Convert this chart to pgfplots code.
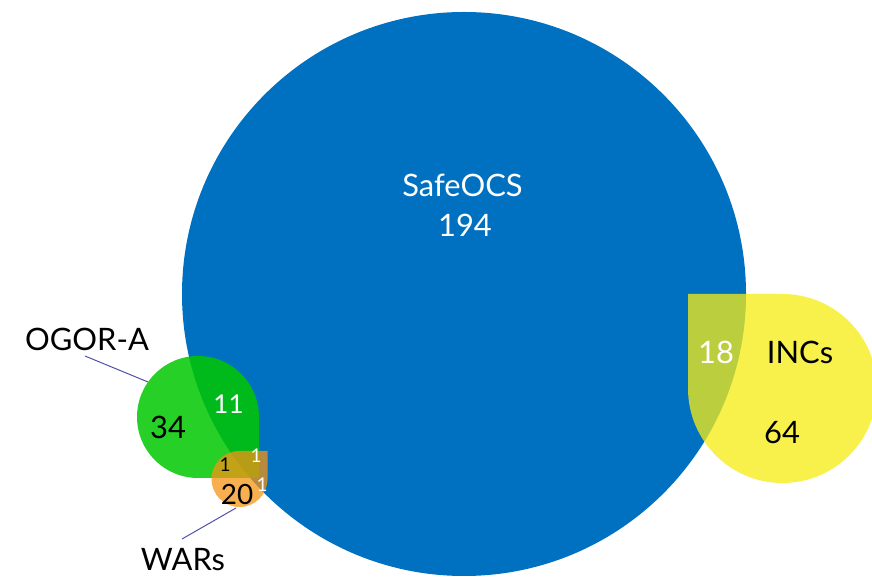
\documentclass[border=0pt]{standalone}
\usepackage{pgfplots}
\pgfplotsset{compat=1.18}
\usepackage{fontspec}
\setmainfont{Lato}
\definecolor{sblue}{RGB}{0,112,192}
\definecolor{syellow}{RGB}{246,236,20}
\definecolor{sgreen}{RGB}{0,200,0}
\definecolor{sorange}{RGB}{245,148,20}
\definecolor{sline}{RGB}{80,80,175}
\begin{document}
\begin{tikzpicture}
\begin{axis}[
  name=venn,
  at={(0,0)}, anchor=south west,
  width=872bp, height=577bp, scale only axis,
  xmin=0, xmax=872, ymin=0, ymax=577,
  hide axis, clip=true,
]
% SafeOCS: circle, centre (464,283), r = 282
\addplot[draw=none, fill=sblue, rounded corners=282bp] coordinates {
  (464,565) (746,565) (746,1) (182,1) (182,565) (464,565)};
% INCs: top-left corner square, r = 94.5
\addplot[draw=none, fill=syellow, fill opacity=0.76, rounded corners=94.5bp] coordinates {
  (688,283) (877,283) (877,94) (688,94) (688,283)};
% OGOR-A: bottom-right corner square, r = 61
\addplot[draw=none, fill=sgreen, fill opacity=0.85, rounded corners=61bp] coordinates {
  (259,99) (259,221) (137,221) (137,99) (259,99)};
% WARs: top-right corner square, r = 28
\addplot[draw=none, fill=sorange, fill opacity=0.75, rounded corners=28bp] coordinates {
  (267.5,126) (211.5,126) (211.5,70) (267.5,70) (267.5,126)};
% pointer lines
\addplot[sline, line width=1bp] coordinates {(85,221) (148,195)};
\addplot[sline, line width=1bp] coordinates {(182,38) (236,69)};
% labels
\node[white, font=\fontsize{31}{33}\selectfont] at (axis cs:462.5,392) {SafeOCS};
\node[white, font=\fontsize{31}{33}\selectfont] at (axis cs:465,352) {194};
\node[black, font=\fontsize{31}{33}\selectfont] at (axis cs:800,224.5) {INCs};
\node[white, font=\fontsize{31}{33}\selectfont] at (axis cs:716,224.5) {18};
\node[black, font=\fontsize{31}{33}\selectfont] at (axis cs:782,144) {64};
\node[black, font=\fontsize{31}{33}\selectfont] at (axis cs:87,238) {OGOR-A};
\node[black, font=\fontsize{31}{33}\selectfont] at (axis cs:183,17) {WARs};
\node[black, font=\fontsize{31}{33}\selectfont] at (axis cs:168,150) {34};
\node[white, font=\fontsize{26}{28}\selectfont] at (axis cs:228.5,173) {11};
\node[black, font=\fontsize{28}{30}\selectfont] at (axis cs:237,82) {20};
\node[black, font=\fontsize{19}{20}\selectfont] at (axis cs:225,112) {1};
\node[white, font=\fontsize{19}{20}\selectfont] at (axis cs:256,121) {1};
\node[white, font=\fontsize{19}{20}\selectfont] at (axis cs:262,92) {1};
\end{axis}
\pgfresetboundingbox
\path[use as bounding box] (0,0) rectangle (872bp,577bp);
\end{tikzpicture}
\end{document}
